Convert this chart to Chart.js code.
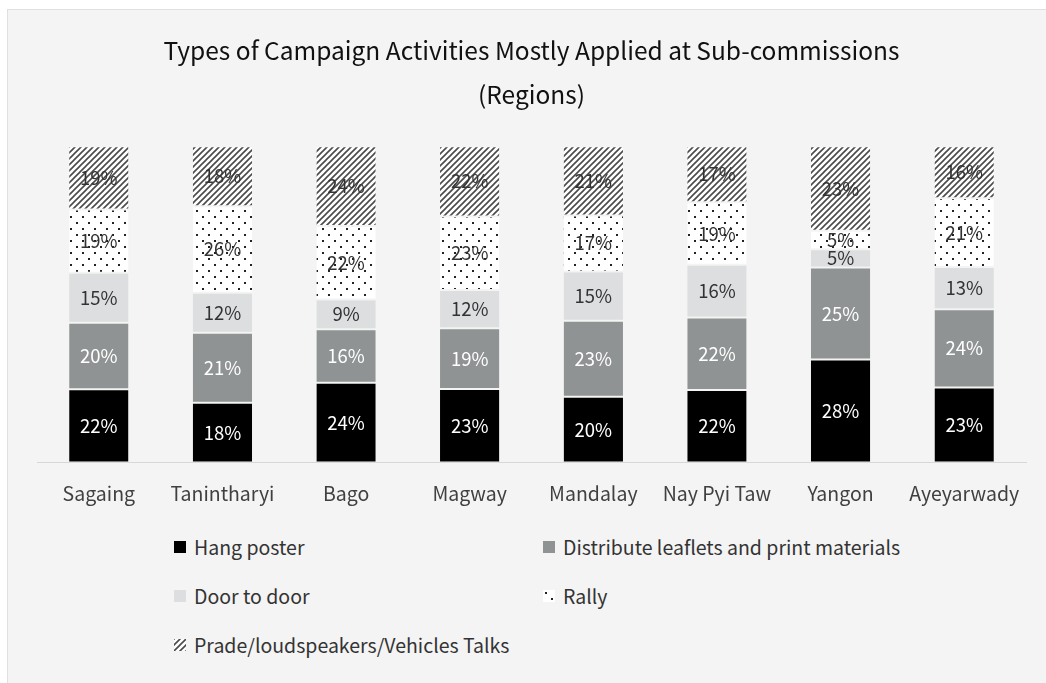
<!DOCTYPE html>
<html>
<head>
<meta charset="utf-8">
<script src="https://cdn.jsdelivr.net/npm/chart.js@4.4.0/dist/chart.umd.min.js"></script>
<style>
  body { margin: 0; background: #fff; width: 1046px; height: 683px; overflow: hidden; font-family: "Noto Sans CJK SC", "Noto Sans", sans-serif; }
  #panel { position: absolute; left: 7px; top: 9px; width: 1039px; height: 674px; background: #f3f4f3; border-left: 1px solid #dfe0df; border-top: 1px solid #dfe0df; }
  #wrap { position: absolute; left: 0; top: 0; width: 1039px; height: 514px; }
  .leg { position: absolute; font-size: 19.5px; color: #333; white-space: nowrap; line-height: 22px; }
  .leg canvas { position: absolute; left: -20px; top: 5px; }
</style>
</head>
<body>
<div id="panel">
  <div id="wrap"><canvas id="grafikon"></canvas></div>
  <div id="legenda"></div>
</div>
<script>
const regiok = ["Sagaing", "Tanintharyi", "Bago", "Magway", "Mandalay", "Nay Pyi Taw", "Yangon", "Ayeyarwady"];
const sorozatNevek = ["Hang poster", "Distribute leaflets and print materials", "Door to door", "Rally", "Prade/loudspeakers/Vehicles Talks"];
const plakat = [22, 18, 24, 23, 20, 22, 28, 23];
const szorolap = [20, 21, 16, 19, 23, 22, 25, 24];
const hazhoz = [15, 12, 9, 12, 15, 16, 5, 13];
const gyules = [19, 26, 22, 23, 17, 19, 5, 21];
const hangosbemondo = [19, 18, 24, 22, 21, 17, 23, 16];

const sorozatok = [plakat, szorolap, hazhoz, gyules, hangosbemondo];

// Minták (csíkos, pöttyös)
function csikMinta() {
  const c = document.createElement("canvas");
  c.width = 6; c.height = 6;
  const x = c.getContext("2d");
  x.fillStyle = "#ffffff";
  x.fillRect(0, 0, 6, 6);
  x.strokeStyle = "#4a4a4a";
  x.lineWidth = 1.6;
  x.beginPath();
  x.moveTo(-1, 7); x.lineTo(7, -1);
  x.moveTo(-4, 4); x.lineTo(4, -4);
  x.moveTo(2, 10); x.lineTo(10, 2);
  x.stroke();
  return x.createPattern(c, "repeat");
}
function pottyMinta() {
  const c = document.createElement("canvas");
  c.width = 12; c.height = 12;
  const x = c.getContext("2d");
  x.fillStyle = "#ffffff";
  x.fillRect(0, 0, 12, 12);
  x.fillStyle = "#222";
  x.fillRect(2, 2, 2, 2);
  x.fillRect(8, 8, 2, 2);
  return x.createPattern(c, "repeat");
}

const szinek = ["#000000", "#8f9393", "#dcdedf", pottyMinta(), csikMinta()];
const cimkeSzinek = ["#ffffff", "#ffffff", "#333333", "#333333", "#333333"];

// 100%-os halmozás: minden régió összegére normálva
const osszegek = regiok.map((r, i) => sorozatok.reduce((s, a) => s + a[i], 0));

const adatsorok = sorozatok.map((arr, k) => ({
  label: sorozatNevek[k],
  data: arr.map((v, i) => v / osszegek[i] * 100),
  nyers: arr,
  backgroundColor: szinek[k],
  borderColor: "#f3f4f3",
  borderWidth: { top: 1, bottom: 1, left: 0, right: 0 },
  borderSkipped: false,
  categoryPercentage: 0.8,
  barPercentage: 0.6
}));

const cimkePlugin = {
  id: "cimkek",
  afterDatasetsDraw(chart) {
    const ctx = chart.ctx;
    ctx.save();
    ctx.font = "18.5px 'Noto Sans CJK SC', 'Noto Sans', sans-serif";
    ctx.textAlign = "center";
    ctx.textBaseline = "middle";
    chart.data.datasets.forEach((ds, k) => {
      chart.getDatasetMeta(k).data.forEach((bar, i) => {
        ctx.fillStyle = cimkeSzinek[k];
        ctx.fillText(ds.nyers[i] + "%", bar.x, (bar.y + bar.base) / 2);
      });
    });
    ctx.restore();
  }
};

new Chart(document.getElementById("grafikon"), {
  type: "bar",
  data: { labels: regiok, datasets: adatsorok },
  plugins: [cimkePlugin],
  options: {
    responsive: true,
    maintainAspectRatio: false,
    animation: false,
    layout: { padding: { left: 29, right: 21, top: 0, bottom: 0 } },
    plugins: {
      legend: { display: false },
      tooltip: { enabled: false },
      title: {
        display: true,
        text: ["Types of Campaign Activities Mostly Applied at Sub-commissions", "(Regions)"],
        color: "#111111",
        font: { family: "'Noto Sans CJK SC', 'Noto Sans', sans-serif", size: 24.5, weight: "normal", lineHeight: 1.82 },
        padding: { top: 18, bottom: 29 }
      }
    },
    scales: {
      x: {
        stacked: true,
        grid: { display: false, drawTicks: false },
        border: { color: "#d6d7d6", width: 1 },
        ticks: { color: "#404040", font: { family: "'Noto Sans CJK SC', 'Noto Sans', sans-serif", size: 19.5 }, padding: 19 }
      },
      y: { stacked: true, display: false, min: 0, max: 100 }
    }
  }
});

// Jelmagyarázat két oszlopban
const legPoz = [[186, 526], [555, 526], [186, 575], [555, 575], [186, 624]];
const legenda = document.getElementById("legenda");
sorozatNevek.forEach((nev, k) => {
  const d = document.createElement("div");
  d.className = "leg";
  d.style.left = legPoz[k][0] + "px";
  d.style.top = legPoz[k][1] + "px";
  const c = document.createElement("canvas");
  c.width = 12; c.height = 12;
  const x = c.getContext("2d");
  x.fillStyle = szinek[k];
  x.fillRect(0, 0, 12, 12);
  d.appendChild(c);
  d.appendChild(document.createTextNode(nev));
  legenda.appendChild(d);
});
</script>
</body>
</html>
